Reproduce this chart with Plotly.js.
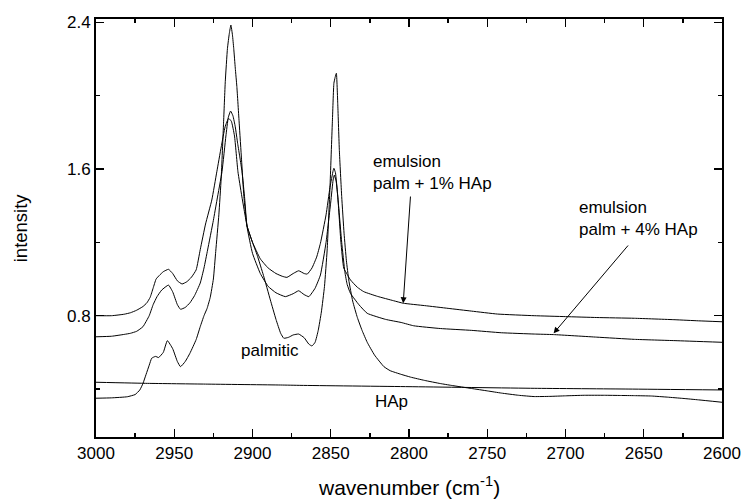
<!DOCTYPE html>
<html>
<head>
<meta charset="utf-8">
<script src="https://cdn.plot.ly/plotly-3.0.1.min.js"></script>
<style>html,body{margin:0;padding:0;background:#fff;}#chart{width:744px;height:500px;}</style>
</head>
<body>
<div id="chart"></div>
<script>
// wavenumber (cm-1) and intensity values
const palmX = [3000,2990,2980,2975,2972,2970,2968,2966,2964.4,2962,2960,2957,2954.4,2951,2948,2946,2943,2940,2936,2933.4,2931,2929,2927,2925,2923.5,2921.5,2920,2918.5,2917.4,2916,2914.8,2913.8,2912.8,2912,2911,2910,2908.5,2907,2905.5,2903.5,2900,2897,2893,2888.6,2885,2882,2880,2877,2874,2870.5,2867,2864,2862,2860,2858,2856,2854,2852.3,2850.5,2849,2848,2847.2,2846.4,2845.5,2844.5,2843,2841.5,2840,2838.5,2836,2833,2830,2826.7,2822,2816,2812,2805,2799,2790,2780,2773,2760,2750,2741,2730,2720,2710,2700,2688,2675,2665,2656,2645,2635,2625,2615,2600];
const palmY = [0.35,0.352,0.358,0.37,0.395,0.43,0.48,0.53,0.568,0.578,0.572,0.6,0.664,0.62,0.55,0.522,0.55,0.595,0.67,0.74,0.8,0.84,0.9,1.0,1.15,1.35,1.55,1.85,2.076,2.258,2.34,2.385,2.33,2.258,2.15,2.05,1.85,1.65,1.45,1.29,1.2,1.13,1.02,0.886,0.78,0.704,0.677,0.682,0.695,0.70,0.68,0.645,0.635,0.655,0.72,0.82,0.96,1.158,1.5,1.85,2.067,2.1,2.122,1.95,1.7,1.45,1.25,1.1,0.995,0.88,0.79,0.72,0.655,0.585,0.522,0.5,0.48,0.465,0.447,0.43,0.42,0.403,0.39,0.378,0.366,0.359,0.36,0.363,0.366,0.366,0.365,0.364,0.362,0.356,0.349,0.341,0.328];

const emul1X = [3000,2990,2982,2978,2974,2970,2967.5,2965.4,2963.5,2961.6,2959.5,2957,2953.7,2951,2948,2945,2942,2939,2936,2933.4,2930,2926,2922.8,2920,2917.5,2915.3,2913.5,2911.5,2909.3,2907,2905,2903.5,2900,2895,2890,2885,2881,2878,2874,2870.5,2867,2865,2862,2859,2856.6,2853,2850.5,2848.5,2848,2847,2845.5,2843.5,2841.7,2839.5,2837.4,2833,2828.9,2820,2810,2803.7,2790,2775,2760,2743.5,2720,2700,2680,2656,2630,2615,2600];
const emul1Y = [0.80,0.80,0.808,0.816,0.83,0.85,0.87,0.9,0.95,1.0,1.02,1.04,1.053,1.03,0.99,0.973,0.985,1.01,1.05,1.16,1.3,1.431,1.585,1.72,1.83,1.876,1.86,1.78,1.585,1.46,1.36,1.29,1.2,1.11,1.06,1.03,1.015,1.009,1.03,1.045,1.03,1.027,1.06,1.12,1.195,1.35,1.5,1.59,1.604,1.58,1.45,1.2,1.06,1.025,0.995,0.955,0.931,0.905,0.882,0.868,0.855,0.84,0.825,0.809,0.8,0.795,0.79,0.786,0.778,0.772,0.767];

const emul4X = [3000,2990,2982,2978,2974,2970,2966,2963.5,2961,2958,2953.7,2951,2948,2946,2943,2940,2937,2933.4,2931,2928.7,2925,2922.7,2919.5,2917,2915.5,2914,2912.5,2911,2909.5,2908,2906.7,2905,2903.5,2900,2895,2890,2885,2879,2874,2870.5,2867,2864,2860,2856.6,2853,2850,2848.5,2847.7,2846.5,2845,2843,2841,2839.5,2837.4,2832,2826.7,2815,2805,2797,2780,2760,2741,2720,2707.7,2680,2656,2630,2600];
const emul4Y = [0.685,0.688,0.698,0.704,0.715,0.74,0.8,0.86,0.904,0.94,0.967,0.93,0.86,0.835,0.845,0.87,0.91,0.978,1.06,1.158,1.32,1.431,1.585,1.78,1.88,1.916,1.89,1.83,1.74,1.66,1.585,1.44,1.285,1.14,1.03,0.96,0.925,0.904,0.92,0.936,0.915,0.904,0.95,1.022,1.2,1.42,1.54,1.567,1.53,1.4,1.2,1.04,0.97,0.922,0.86,0.813,0.78,0.763,0.745,0.73,0.72,0.707,0.7,0.697,0.683,0.671,0.664,0.655];

const hapX = [3000,2967,2930,2882,2869,2800,2720,2660,2600];
const hapY = [0.437,0.431,0.427,0.422,0.42,0.413,0.404,0.4,0.395];

const FONT = 'Liberation Sans, Arial, sans-serif';
const traces = [
  {x: emul1X, y: emul1Y, name:'emulsion palm + 1% HAp'},
  {x: emul4X, y: emul4Y, name:'emulsion palm + 4% HAp'},
  {x: palmX, y: palmY, name:'palmitic'},
  {x: hapX, y: hapY, name:'HAp'}
].map(t => Object.assign(t, {type:'scatter', mode:'lines', hoverinfo:'skip',
  line:{color:'#000', width:1, shape:'spline', smoothing:0.4}}));

const axisCommon = {
  showline:true, linecolor:'#000', linewidth:2, mirror:'ticks',
  ticks:'inside', ticklen:8, tickwidth:1.3, tickcolor:'#000',
  showgrid:false, zeroline:false,
  tickfont:{family:FONT, size:17, color:'#000'}
};

const layout = {
  width:744, height:500,
  margin:{l:96, r:22, t:19, b:63},
  paper_bgcolor:'#fff', plot_bgcolor:'#fff',
  showlegend:false,
  font:{family:FONT, color:'#000'},
  xaxis: Object.assign({}, axisCommon, {
    range:[3000,2600], tick0:2600, dtick:50,
    minor:{ticks:'inside', ticklen:4, dtick:25, tickcolor:'#000', tickwidth:1.3, showgrid:false}
  }),
  yaxis: Object.assign({}, axisCommon, {
    range:[0.1385,2.418], tick0:0.8, dtick:0.8, tickformat:'.1f',
    minor:{ticks:'inside', ticklen:4, dtick:0.4, tick0:0.8, tickcolor:'#000', tickwidth:1.3, showgrid:false}
  }),
  annotations:[
    {xref:'paper', yref:'paper', x:0.5, y:-0.117, xanchor:'center', yanchor:'middle', showarrow:false,
     text:'wavenumber (cm<sup>-1</sup>)', font:{family:FONT, size:21, color:'#000'}},
    {xref:'paper', yref:'paper', x:-0.121, y:0.5, xanchor:'center', yanchor:'middle', showarrow:false, textangle:-90,
     text:'intensity', font:{family:FONT, size:18.5, color:'#000'}},
    {xref:'x', yref:'y', x:2824.1, y:1.581, xanchor:'left', yanchor:'middle', align:'left', showarrow:false,
     text:'emulsion<br>palm + 1% HAp', font:{family:FONT, size:17, color:'#000'}},
    {xref:'x', yref:'y', x:2692.9, y:1.328, xanchor:'left', yanchor:'middle', align:'left', showarrow:false,
     text:'emulsion<br>palm + 4% HAp', font:{family:FONT, size:17, color:'#000'}},
    {xref:'x', yref:'y', x:2889.1, y:0.609, xanchor:'center', yanchor:'middle', showarrow:false,
     text:'palmitic', font:{family:FONT, size:17, color:'#000'}},
    {xref:'x', yref:'y', x:2811.3, y:0.331, xanchor:'center', yanchor:'middle', showarrow:false,
     text:'HAp', font:{family:FONT, size:17, color:'#000'}},
    {xref:'x', yref:'y', axref:'x', ayref:'y', x:2803.7, y:0.868, ax:2799, ay:1.458, text:'',
     showarrow:true, arrowhead:2, arrowsize:1.2, arrowwidth:1, arrowcolor:'#000', standoff:0, startstandoff:0},
    {xref:'x', yref:'y', axref:'x', ayref:'y', x:2707.6, y:0.704, ax:2659.2, ay:1.191, text:'',
     showarrow:true, arrowhead:2, arrowsize:1.2, arrowwidth:1, arrowcolor:'#000', standoff:0, startstandoff:0}
  ]
};

Plotly.newPlot('chart', traces, layout, {staticPlot:true, displayModeBar:false});
</script>
</body>
</html>
